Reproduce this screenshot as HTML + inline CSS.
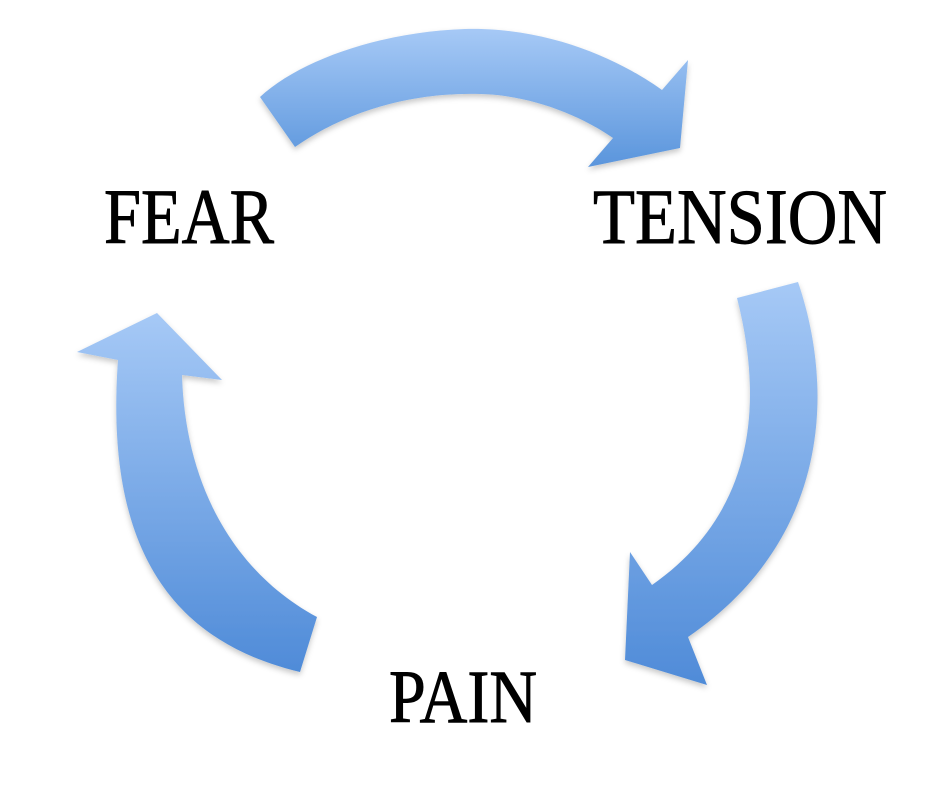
<!DOCTYPE html>
<html>
<head>
<meta charset="utf-8">
<style>
  html,body{margin:0;padding:0;background:#fff;}
  svg{display:block;}
  text{font-family:"Liberation Serif","DejaVu Serif",serif;fill:#000;stroke:#000;stroke-width:0.9;}
</style>
</head>
<body>
<svg width="940" height="788" viewBox="0 0 940 788" xmlns="http://www.w3.org/2000/svg">
  <defs>
    <linearGradient id="g1" x1="0" y1="0" x2="0" y2="1">
      <stop offset="0" stop-color="#a6c9f6"/>
      <stop offset="1" stop-color="#5a95dc"/>
    </linearGradient>
    <linearGradient id="g2" x1="0" y1="0" x2="0" y2="1">
      <stop offset="0" stop-color="#a6c9f6"/>
      <stop offset="1" stop-color="#4f8bd8"/>
    </linearGradient>
    <filter id="sh" x="-10%" y="-10%" width="120%" height="130%">
      <feDropShadow dx="0" dy="3" stdDeviation="3" flood-color="#000" flood-opacity="0.22"/>
    </filter>
  </defs>

  <!-- Top arrow: FEAR -> TENSION -->
  <path filter="url(#sh)" fill="url(#g1)"
    d="M260,97 C300,60 380,32 465,29 C550,27 620,60 662,90 L688,60 L680,148 L588,167 L613,138
       C580,115 530,95 480,94 C410,92 345,112 295,147 Z"/>

  <!-- Right arrow: TENSION -> PAIN -->
  <path filter="url(#sh)" fill="url(#g2)"
    d="M798,282 C835,390 830,540 688,637 L707,685 L625,660 L630,552 L652,585
       C745,520 768,420 737,298 Z"/>

  <!-- Left arrow: PAIN -> FEAR -->
  <path filter="url(#sh)" fill="url(#g2)"
    d="M300,672 C165,640 105,540 118,360 L77,352 L157,313 L222,380 L182,375
       C185,480 230,570 317,617 Z"/>

  <text x="104" y="243" font-size="78" textLength="170" lengthAdjust="spacingAndGlyphs">FEAR</text>
  <text x="593" y="243" font-size="78" textLength="294" lengthAdjust="spacingAndGlyphs">TENSION</text>
  <text x="389" y="722" font-size="75" textLength="148" lengthAdjust="spacingAndGlyphs">PAIN</text>
</svg>
</body>
</html>
